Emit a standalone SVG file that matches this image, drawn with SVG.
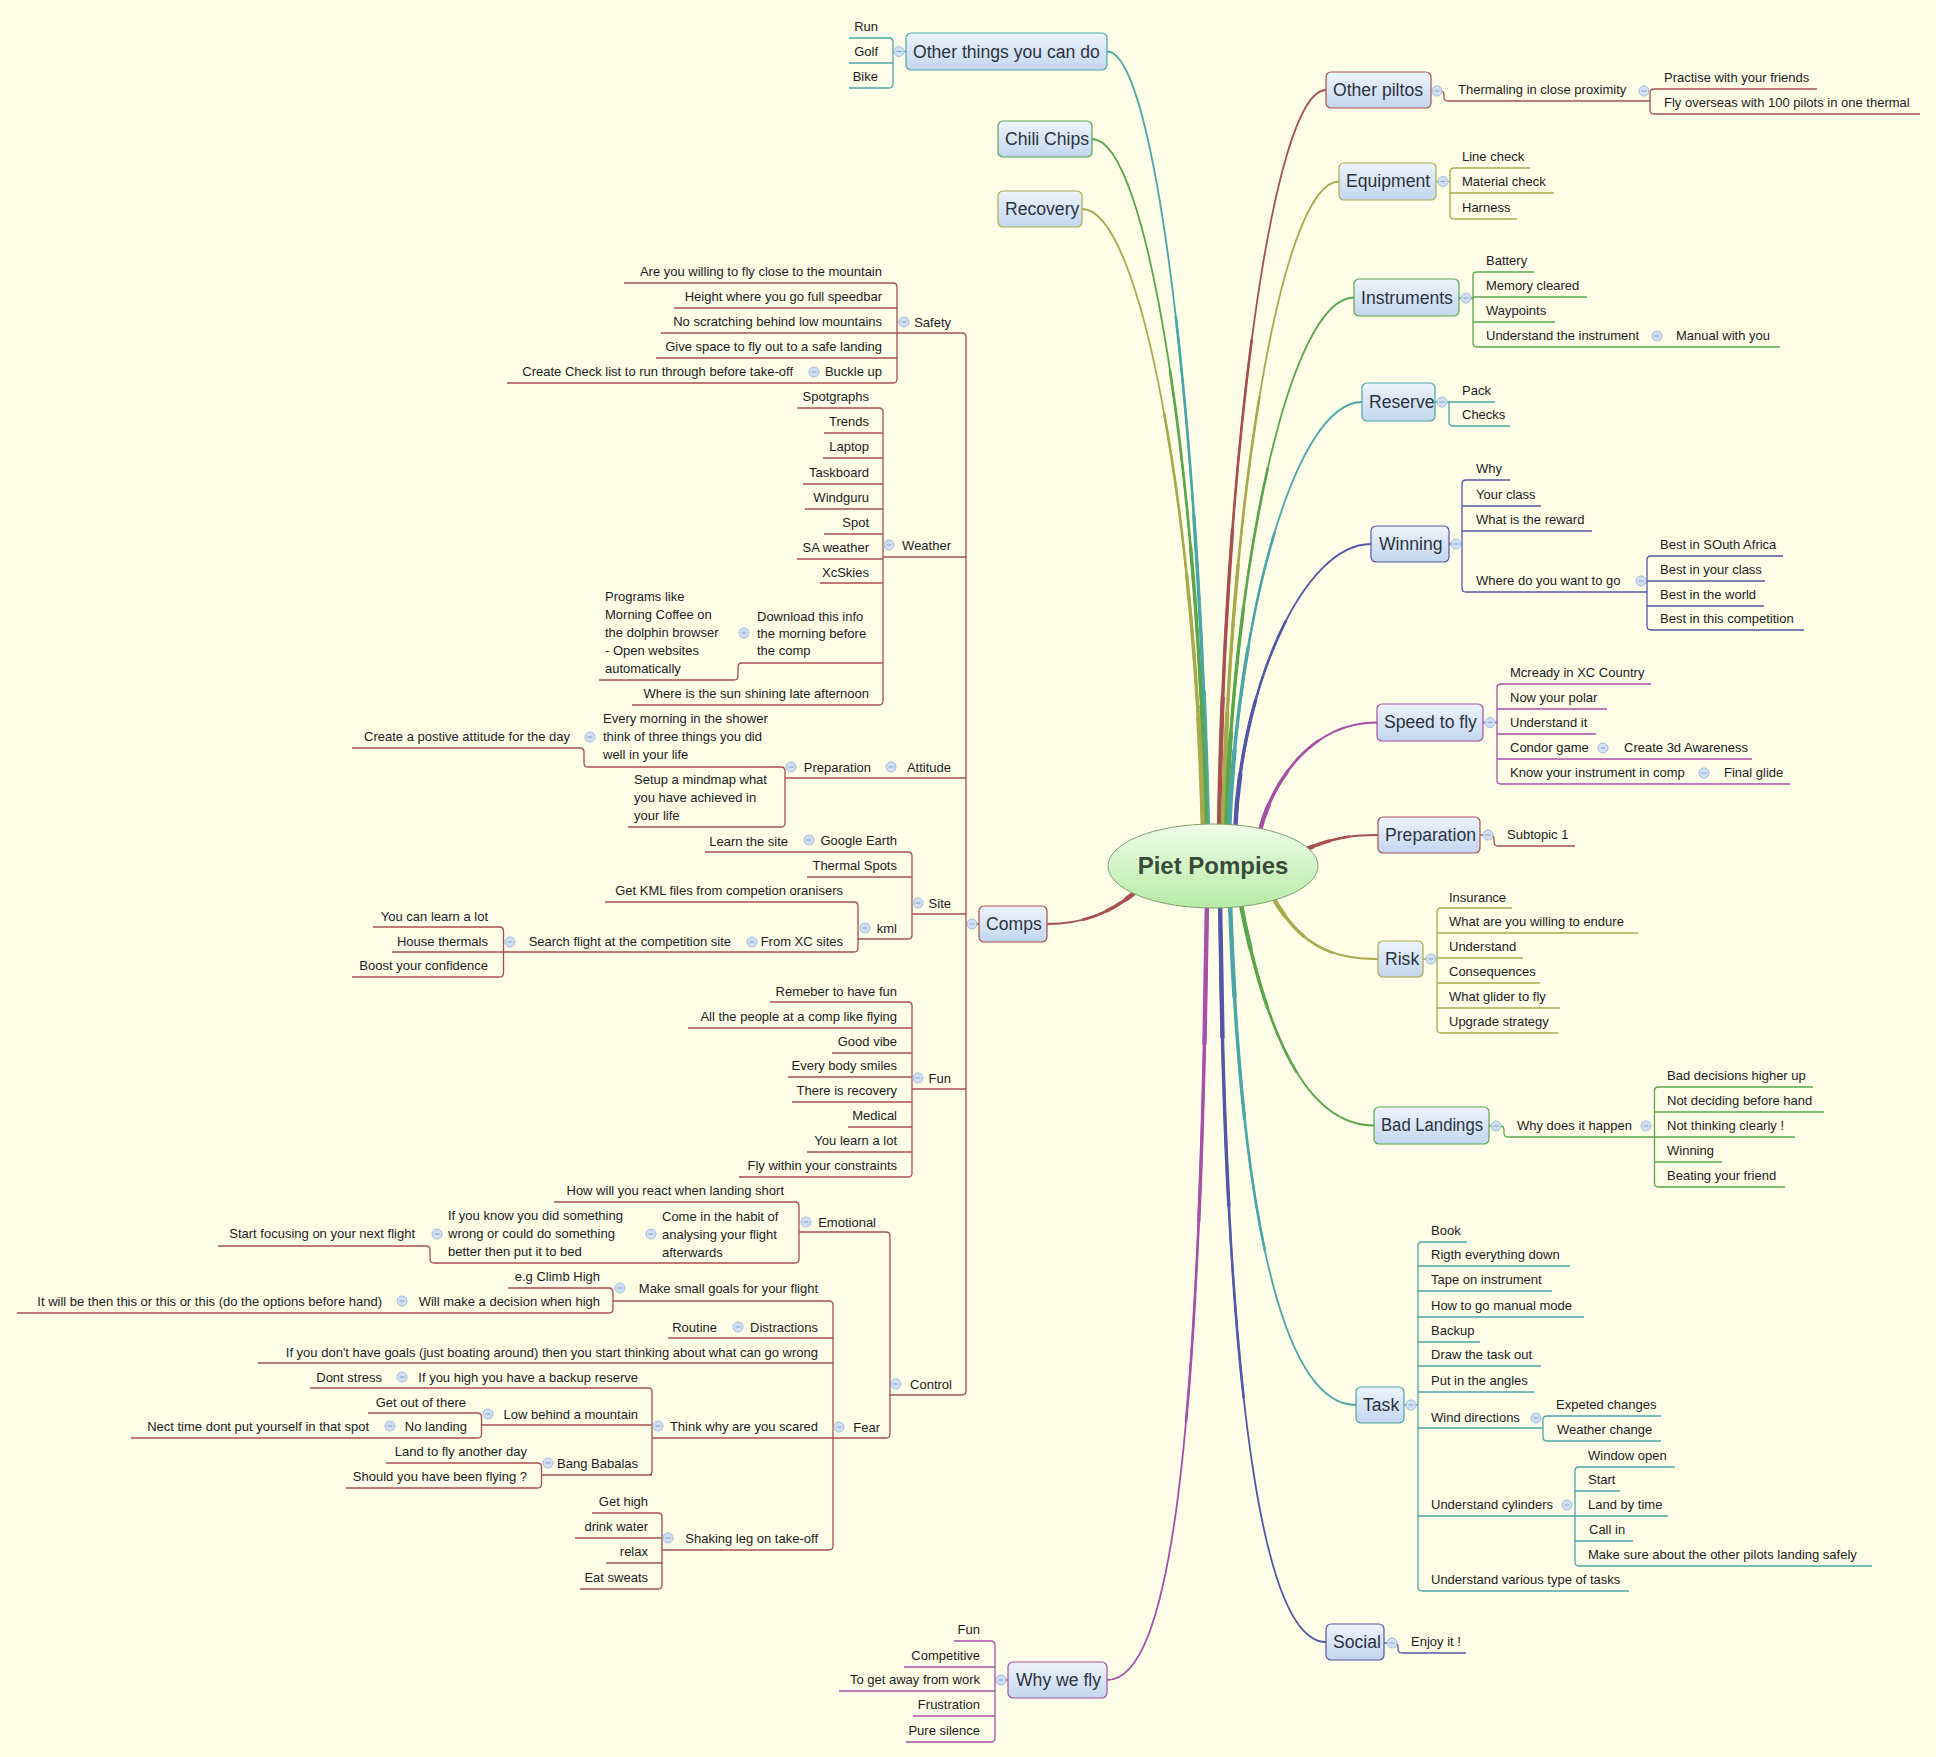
<svg xmlns="http://www.w3.org/2000/svg" xmlns:xlink="http://www.w3.org/1999/xlink" width="1936" height="1757" viewBox="0 0 1936 1757">
<style>
.t{font-family:"Liberation Sans",Arial,sans-serif;font-size:13px;fill:#1c1c1c}
.tm{font-family:"Liberation Sans",Arial,sans-serif;font-size:17.6px;fill:#2c3440}
.e{text-anchor:end}
.l{fill:none;stroke-width:1.3}
.cv{fill:none}
.w1{stroke-width:1.8}
.w2{stroke-width:2.6;stroke-dasharray:65 200}
.w3{stroke-width:3.4;stroke-dasharray:40 200}
.w4{stroke-width:4.4;stroke-dasharray:18 200}
.r{stroke:#a7504e}.o{stroke:#a9aa4f}.g{stroke:#5aa64c}.c{stroke:#4ca6a8}.i{stroke:#5457a8}.p{stroke:#a650a6}
.bx{fill:url(#gb);stroke-width:1.2}
.bt circle{fill:#d2e0f4;stroke:#a3bbde;stroke-width:1}
.bt path{stroke:#8fa9d2;stroke-width:1.2}
</style>
<defs>
<linearGradient id="gb" x1="0" y1="0" x2="0" y2="1"><stop offset="0" stop-color="#eef4fc"/><stop offset="1" stop-color="#c3d6ef"/></linearGradient>
<linearGradient id="ge" x1="0" y1="0" x2="0" y2="1"><stop offset="0" stop-color="#effde9"/><stop offset="1" stop-color="#b6eba6"/></linearGradient>
<g id="b" class="bt"><circle r="5"/><path d="M-2.5,0H2.5"/></g>
<path id="k1" class="cv" pathLength="100" d="M1208,834 C1200,441 1157,51.5 1107,51.5"/>
<path id="k2" class="cv" pathLength="100" d="M1206,834 C1199,485 1149,139 1092,139"/>
<path id="k3" class="cv" pathLength="100" d="M1203,834 C1196,520 1142,209 1082,209"/>
<path id="k4" class="cv" pathLength="100" d="M1219,834 C1224,461 1272,90 1326,90"/>
<path id="k5" class="cv" pathLength="100" d="M1223,834 C1229,506 1281,181.5 1339,181.5"/>
<path id="k6" class="cv" pathLength="100" d="M1226,834 C1233,564 1290,297.5 1354,297.5"/>
<path id="k7" class="cv" pathLength="100" d="M1229,834 C1237,617 1295,402 1362,402"/>
<path id="k8" class="cv" pathLength="100" d="M1235,834 C1240,688 1303,544 1371,544"/>
<path id="k9" class="cv" pathLength="100" d="M1259,834 C1272,780 1312,722.5 1377,722.5"/>
<path id="k10" class="cv" pathLength="100" d="M1300,852 C1330,838 1350,835 1378,835"/>
<path id="k11" class="cv" pathLength="100" d="M1272,896 C1300,945 1330,959 1378,959"/>
<path id="k12" class="cv" pathLength="100" d="M1240,900 C1265,1030 1305,1125.5 1374,1125.5"/>
<path id="k13" class="cv" pathLength="100" d="M1230,900 C1242,1250 1290,1405 1356,1405"/>
<path id="k14" class="cv" pathLength="100" d="M1220,900 C1226,1450 1270,1642 1326,1642"/>
<path id="k15" class="cv" pathLength="100" d="M1207,900 C1200,1450 1170,1680 1107,1680"/>
<path id="k16" class="cv" pathLength="100" d="M1140,888 C1110,915 1080,924 1047,924"/>
</defs>
<rect width="1936" height="1757" fill="#fdfde8"/>

<g id="connectors">
<g id="curves">
<use href="#k1" class="w1 c"/><use href="#k1" class="w2 c"/><use href="#k1" class="w3 c"/><use href="#k1" class="w4 c"/>
<use href="#k2" class="w1 g"/><use href="#k2" class="w2 g"/><use href="#k2" class="w3 g"/><use href="#k2" class="w4 g"/>
<use href="#k3" class="w1 o"/><use href="#k3" class="w2 o"/><use href="#k3" class="w3 o"/><use href="#k3" class="w4 o"/>
<use href="#k4" class="w1 r"/><use href="#k4" class="w2 r"/><use href="#k4" class="w3 r"/><use href="#k4" class="w4 r"/>
<use href="#k5" class="w1 o"/><use href="#k5" class="w2 o"/><use href="#k5" class="w3 o"/><use href="#k5" class="w4 o"/>
<use href="#k6" class="w1 g"/><use href="#k6" class="w2 g"/><use href="#k6" class="w3 g"/><use href="#k6" class="w4 g"/>
<use href="#k7" class="w1 c"/><use href="#k7" class="w2 c"/><use href="#k7" class="w3 c"/><use href="#k7" class="w4 c"/>
<use href="#k8" class="w1 i"/><use href="#k8" class="w2 i"/><use href="#k8" class="w3 i"/><use href="#k8" class="w4 i"/>
<use href="#k9" class="w1 p"/><use href="#k9" class="w2 p"/><use href="#k9" class="w3 p"/><use href="#k9" class="w4 p"/>
<use href="#k10" class="w1 r"/><use href="#k10" class="w2 r"/><use href="#k10" class="w3 r"/><use href="#k10" class="w4 r"/>
<use href="#k11" class="w1 o"/><use href="#k11" class="w2 o"/><use href="#k11" class="w3 o"/><use href="#k11" class="w4 o"/>
<use href="#k12" class="w1 g"/><use href="#k12" class="w2 g"/><use href="#k12" class="w3 g"/><use href="#k12" class="w4 g"/>
<use href="#k13" class="w1 c"/><use href="#k13" class="w2 c"/><use href="#k13" class="w3 c"/><use href="#k13" class="w4 c"/>
<use href="#k14" class="w1 i"/><use href="#k14" class="w2 i"/><use href="#k14" class="w3 i"/><use href="#k14" class="w4 i"/>
<use href="#k15" class="w1 p"/><use href="#k15" class="w2 p"/><use href="#k15" class="w3 p"/><use href="#k15" class="w4 p"/>
<use href="#k16" class="w1 r"/><use href="#k16" class="w2 r"/><use href="#k16" class="w3 r"/><use href="#k16" class="w4 r"/>
</g>
<g id="lines-left">
<path class="l c" d="M906,51.5H893 M889,38 Q893,38 893,42 V84 Q893,88 889,88 M889,38H849 M893,63H849 M889,88H849"/>
<path class="l r" d="M979,924H966 M962,333 Q966,333 966,337 V1391 Q966,1395 962,1395"/>
<path class="l r" d="M962,333H897 M893,283 Q897,283 897,287 V379 Q897,383 893,383 M893,283H624 M897,308H674 M897,333H661 M897,358H656 M893,383H507"/>
<path class="l r" d="M966,557H883 M879,408 Q883,408 883,412 V701 Q883,705 879,705 M879,408H797 M883,433H824 M883,458H823 M883,484H803 M883,509H805 M883,534H824 M883,559H797 M883,583H820 M883,663H742 Q738,663 738,667 V676 Q738,680 734,680 H599 M879,705H632"/>
<path class="l r" d="M966,778H785 M781,767 Q785,767 785,771 V823 Q785,827 781,827 M781,767H588 Q584,767 584,763 V752 Q584,748 580,748 H352 M781,827H628"/>
<path class="l r" d="M966,914H912 M908,852 Q912,852 912,856 V935 Q912,939 908,939 M908,852H705 M912,877H807 M908,939H858 M854,902 Q858,902 858,906 V948 Q858,952 854,952 M854,902H605 M854,952H392 M499.5,927 Q503.5,927 503.5,931 V973 Q503.5,977 499.5,977 M499.5,927H373 M499.5,977H352"/>
<path class="l r" d="M966,1089H912 M908,1002 Q912,1002 912,1006 V1173 Q912,1177 908,1177 M908,1002H770 M912,1028H688 M912,1053H832 M912,1077H788 M912,1102H792 M912,1127H848 M912,1152H807 M908,1177H739"/>
<path class="l r" d="M962,1395H890 M886,1232 Q890,1232 890,1236 V1434 Q890,1438 886,1438 M886,1232H799 M795,1202 Q799,1202 799,1206 V1259 Q799,1263 795,1263 M795,1202H554 M795,1263H434 Q430,1263 430,1259 V1250 Q430,1246 426,1246 H218"/>
<path class="l r" d="M886,1438H833 M829,1301 Q833,1301 833,1305 V1546 Q833,1550 829,1550 M829,1301H613 M609,1288 Q613,1288 613,1292 V1309 Q613,1313 609,1313 M609,1288H508 M609,1313H17 M833,1338H668 M833,1363H258 M833,1438H652 M648,1388 Q652,1388 652,1392 V1471 Q652,1475 648,1475 M648,1388H310 M652,1425H481.5 M477.5,1413 Q481.5,1413 481.5,1417 V1434 Q481.5,1438 477.5,1438 M477.5,1413H368 M477.5,1438H131 M652,1475H541.5 M537.5,1463 Q541.5,1463 541.5,1467 V1484 Q541.5,1488 537.5,1488 M537.5,1463H386 M537.5,1488H346 M829,1550H662 M658,1513 Q662,1513 662,1517 V1585 Q662,1589 658,1589 M658,1513H592 M662,1538H575 M662,1563H606 M658,1589H580"/>
<path class="l p" d="M1008,1680H995 M991,1641 Q995,1641 995,1645 V1738 Q995,1742 991,1742 M991,1641H954 M995,1667H904 M995,1691H839 M995,1716H913 M991,1742H906"/>
</g>
<g id="lines-right">
<path class="l r" d="M1431,91H1440 Q1444,91 1444,95 V97 Q1444,101 1448,101 H1650 M1654,89 Q1650,89 1650,93 V110 Q1650,114 1654,114 M1654,89H1817 M1654,114H1920"/>
<path class="l o" d="M1436,181.5H1450 M1454,168 Q1450,168 1450,172 V215 Q1450,219 1454,219 M1454,168H1530 M1450,193H1554 M1454,219H1517"/>
<path class="l g" d="M1459,298H1473 M1477,272 Q1473,272 1473,276 V343 Q1473,347 1477,347 M1477,272H1534 M1473,297H1587 M1473,322H1555 M1477,347H1780"/>
<path class="l c" d="M1435,402H1495 M1449,402 V422 Q1449,426 1453,426 H1510"/>
<path class="l i" d="M1449,544H1462 M1466,480 Q1462,480 1462,484 V588 Q1462,592 1466,592 M1466,480H1510 M1462,506H1541 M1462,531H1592 M1466,592H1647 M1651,556 Q1647,556 1647,560 V626 Q1647,630 1651,630 M1651,556H1783 M1647,581H1765 M1647,606H1764 M1651,630H1804"/>
<path class="l p" d="M1483,722.5H1497 M1501,684 Q1497,684 1497,688 V780 Q1497,784 1501,784 M1501,684H1651 M1497,709H1607 M1497,734H1596 M1497,759H1752 M1501,784H1790"/>
<path class="l r" d="M1480,835H1490 Q1494,835 1494,839 V842 Q1494,846 1498,846 H1575"/>
<path class="l o" d="M1423,959H1437 M1441,908 Q1437,908 1437,912 V1029 Q1437,1033 1441,1033 M1441,908H1512 M1437,933H1638 M1437,958H1523 M1437,983H1540 M1437,1008H1560 M1441,1033H1558"/>
<path class="l g" d="M1489,1126H1500 Q1504,1126 1504,1130 V1133 Q1504,1137 1508,1137 H1654.5 M1658.5,1087 Q1654.5,1087 1654.5,1091 V1183 Q1654.5,1187 1658.5,1187 M1658.5,1087H1813 M1654.5,1112H1824 M1654.5,1137H1795 M1654.5,1162H1722 M1658.5,1187H1785"/>
<path class="l c" d="M1404,1405H1418 M1422,1242 Q1418,1242 1418,1246 V1587 Q1418,1591 1422,1591 M1422,1242H1467 M1418,1266H1570 M1418,1291H1552 M1418,1317H1584 M1418,1342H1480 M1418,1366H1541 M1418,1392H1534 M1418,1428H1543 M1547,1416 Q1543,1416 1543,1420 V1437 Q1543,1441 1547,1441 M1547,1416H1661 M1547,1441H1661 M1418,1516H1575 M1579,1467 Q1575,1467 1575,1471 V1562 Q1575,1566 1579,1566 M1579,1467H1675 M1575,1491H1620 M1575,1516H1668 M1575,1541H1633 M1579,1566H1872 M1422,1591H1629"/>
<path class="l i" d="M1384,1643H1394 Q1398,1643 1398,1647 V1649 Q1398,1653 1402,1653 H1466"/>
</g>
</g>

<g id="n-other-things">
<rect class="bx c" x="906" y="33" width="201" height="37" rx="5"/>
<text class="tm" x="913" y="57.5">Other things you can do</text>
<use href="#b" x="899" y="51.5"/>
<text class="t e" x="878" y="31">Run</text>
<text class="t e" x="878" y="56">Golf</text>
<text class="t e" x="878" y="81">Bike</text>
</g>
<g id="n-chili"><rect class="bx g" x="998" y="121" width="94" height="36" rx="5"/><text class="tm" x="1005" y="145">Chili Chips</text></g>
<g id="n-recovery"><rect class="bx o" x="998" y="191" width="84" height="36" rx="5"/><text class="tm" x="1005" y="215">Recovery</text></g>

<g id="n-comps">
<rect class="bx r" x="979" y="906" width="68" height="36" rx="5"/>
<text class="tm" x="986" y="930">Comps</text>
<use href="#b" x="972" y="924"/>
</g>
<g id="n-safety">
<text class="t e" x="951" y="327">Safety</text><use href="#b" x="904" y="322"/>
<text class="t e" x="882" y="276">Are you willing to fly close to the mountain</text>
<text class="t e" x="882" y="301">Height where you go full speedbar</text>
<text class="t e" x="882" y="326">No scratching behind low mountains</text>
<text class="t e" x="882" y="351">Give space to fly out to a safe landing</text>
<text class="t e" x="882" y="376">Buckle up</text><use href="#b" x="814" y="372"/>
<text class="t e" x="793" y="376">Create Check list to run through before take-off</text>
</g>
<g id="n-weather">
<text class="t e" x="951" y="550">Weather</text><use href="#b" x="889" y="545"/>
<text class="t e" x="869" y="401">Spotgraphs</text>
<text class="t e" x="869" y="426">Trends</text>
<text class="t e" x="869" y="451">Laptop</text>
<text class="t e" x="869" y="477">Taskboard</text>
<text class="t e" x="869" y="502">Windguru</text>
<text class="t e" x="869" y="527">Spot</text>
<text class="t e" x="869" y="552">SA weather</text>
<text class="t e" x="869" y="577">XcSkies</text>
<text class="t"><tspan x="757" y="621">Download this info</tspan><tspan x="757" y="638">the morning before</tspan><tspan x="757" y="655">the comp</tspan></text>
<use href="#b" x="744" y="633"/>
<text class="t"><tspan x="605" y="601">Programs like</tspan><tspan x="605" y="619">Morning Coffee on</tspan><tspan x="605" y="637">the dolphin browser</tspan><tspan x="605" y="655">- Open websites</tspan><tspan x="605" y="673">automatically</tspan></text>
<text class="t e" x="869" y="698">Where is the sun shining late afternoon</text>
</g>
<g id="n-attitude">
<text class="t e" x="951" y="772">Attitude</text><use href="#b" x="891" y="767"/>
<text class="t e" x="871" y="772">Preparation</text><use href="#b" x="791" y="767"/>
<text class="t"><tspan x="603" y="723">Every morning in the shower</tspan><tspan x="603" y="741">think of three things you did</tspan><tspan x="603" y="759">well in your life</tspan></text>
<use href="#b" x="590" y="737"/>
<text class="t e" x="570" y="741">Create a postive attitude for the day</text>
<text class="t"><tspan x="634" y="784">Setup a mindmap what</tspan><tspan x="634" y="802">you have achieved in</tspan><tspan x="634" y="820">your life</tspan></text>
</g>
<g id="n-site">
<text class="t e" x="951" y="908">Site</text><use href="#b" x="918" y="903"/>
<text class="t e" x="897" y="845">Google Earth</text><use href="#b" x="809" y="840"/>
<text class="t e" x="788" y="846">Learn the site</text>
<text class="t e" x="897" y="870">Thermal Spots</text>
<text class="t e" x="897" y="933">kml</text><use href="#b" x="865" y="928"/>
<text class="t e" x="843" y="895">Get KML files from competion oranisers</text>
<text class="t e" x="843" y="946">From XC sites</text><use href="#b" x="752" y="942"/>
<text class="t e" x="731" y="946">Search flight at the competition site</text><use href="#b" x="510" y="942"/>
<text class="t e" x="488" y="921">You can learn a lot</text>
<text class="t e" x="488" y="946">House thermals</text>
<text class="t e" x="488" y="970">Boost your confidence</text>
</g>
<g id="n-fun">
<text class="t e" x="951" y="1083">Fun</text><use href="#b" x="918" y="1078"/>
<text class="t e" x="897" y="996">Remeber to have fun</text>
<text class="t e" x="897" y="1021">All the people at a comp like flying</text>
<text class="t e" x="897" y="1046">Good vibe</text>
<text class="t e" x="897" y="1070">Every body smiles</text>
<text class="t e" x="897" y="1095">There is recovery</text>
<text class="t e" x="897" y="1120">Medical</text>
<text class="t e" x="897" y="1145">You learn a lot</text>
<text class="t e" x="897" y="1170">Fly within your constraints</text>
</g>
<g id="n-control">
<text class="t e" x="952" y="1389">Control</text><use href="#b" x="896" y="1384"/>
<text class="t e" x="876" y="1227">Emotional</text><use href="#b" x="806" y="1222"/>
<text class="t e" x="784" y="1195">How will you react when landing short</text>
<text class="t"><tspan x="662" y="1221">Come in the habit of</tspan><tspan x="662" y="1239">analysing your flight</tspan><tspan x="662" y="1257">afterwards</tspan></text>
<use href="#b" x="651" y="1234"/>
<text class="t"><tspan x="448" y="1220">If you know you did something</tspan><tspan x="448" y="1238">wrong or could do something</tspan><tspan x="448" y="1256">better then put it to bed</tspan></text>
<use href="#b" x="437" y="1234"/>
<text class="t e" x="415" y="1238">Start focusing on your next flight</text>
</g>
<g id="n-fear">
<text class="t e" x="880" y="1432">Fear</text><use href="#b" x="839" y="1427"/>
<text class="t e" x="818" y="1293">Make small goals for your flight</text><use href="#b" x="620" y="1288"/>
<text class="t e" x="600" y="1281">e.g Climb High</text>
<text class="t e" x="600" y="1306">Will make a decision when high</text><use href="#b" x="402" y="1301"/>
<text class="t e" x="382" y="1306">It will be then this or this or this (do the options before hand)</text>
<text class="t e" x="818" y="1332">Distractions</text><use href="#b" x="738" y="1327"/>
<text class="t e" x="717" y="1332">Routine</text>
<text class="t e" x="818" y="1357">If you don't have goals (just boating around) then you start thinking about what can go wrong</text>
<text class="t e" x="818" y="1431">Think why are you scared</text><use href="#b" x="658" y="1426"/>
<text class="t e" x="638" y="1382">If you high you have a backup reserve</text><use href="#b" x="402" y="1377"/>
<text class="t e" x="382" y="1382">Dont stress</text>
<text class="t e" x="638" y="1419">Low behind a mountain</text><use href="#b" x="488" y="1414"/>
<text class="t e" x="466" y="1407">Get out of there</text>
<text class="t e" x="467" y="1431">No landing</text><use href="#b" x="390" y="1426"/>
<text class="t e" x="369" y="1431">Nect time dont put yourself in that spot</text>
<text class="t e" x="638" y="1468">Bang Babalas</text><use href="#b" x="548" y="1463"/>
<text class="t e" x="527" y="1456">Land to fly another day</text>
<text class="t e" x="527" y="1481">Should you have been flying ?</text>
<text class="t e" x="818" y="1543">Shaking leg on take-off</text><use href="#b" x="668" y="1538"/>
<text class="t e" x="648" y="1506">Get high</text>
<text class="t e" x="648" y="1531">drink water</text>
<text class="t e" x="648" y="1556">relax</text>
<text class="t e" x="648" y="1582">Eat sweats</text>
</g>
<g id="n-why-we-fly">
<rect class="bx p" x="1008" y="1662" width="99" height="36" rx="5"/>
<text class="tm" x="1016" y="1686">Why we fly</text>
<use href="#b" x="1001" y="1680"/>
<text class="t e" x="980" y="1634">Fun</text>
<text class="t e" x="980" y="1660">Competitive</text>
<text class="t e" x="980" y="1684">To get away from work</text>
<text class="t e" x="980" y="1709">Frustration</text>
<text class="t e" x="980" y="1735">Pure silence</text>
</g>

<g id="n-other-piltos">
<rect class="bx r" x="1326" y="72" width="105" height="36" rx="5"/>
<text class="tm" x="1333" y="96">Other piltos</text>
<use href="#b" x="1437" y="91"/>
<text class="t" x="1458" y="94">Thermaling in close proximity</text><use href="#b" x="1644" y="91"/>
<text class="t" x="1664" y="82">Practise with your friends</text>
<text class="t" x="1664" y="107">Fly overseas with 100 pilots in one thermal</text>
</g>
<g id="n-equipment">
<rect class="bx o" x="1339" y="163" width="97" height="37" rx="5"/>
<text class="tm" x="1346" y="187">Equipment</text>
<use href="#b" x="1443" y="181.5"/>
<text class="t" x="1462" y="161">Line check</text>
<text class="t" x="1462" y="186">Material check</text>
<text class="t" x="1462" y="212">Harness</text>
</g>
<g id="n-instruments">
<rect class="bx g" x="1354" y="279" width="105" height="37" rx="5"/>
<text class="tm" x="1361" y="304">Instruments</text>
<use href="#b" x="1466" y="298"/>
<text class="t" x="1486" y="265">Battery</text>
<text class="t" x="1486" y="290">Memory cleared</text>
<text class="t" x="1486" y="315">Waypoints</text>
<text class="t" x="1486" y="340">Understand the instrument</text><use href="#b" x="1657" y="336"/>
<text class="t" x="1676" y="340">Manual with you</text>
</g>
<g id="n-reserve">
<rect class="bx c" x="1362" y="383" width="73" height="38" rx="5"/>
<text class="tm" x="1369" y="408">Reserve</text>
<use href="#b" x="1442" y="402"/>
<text class="t" x="1462" y="395">Pack</text>
<text class="t" x="1462" y="419">Checks</text>
</g>
<g id="n-winning">
<rect class="bx i" x="1371" y="526" width="78" height="36" rx="5"/>
<text class="tm" x="1379" y="550">Winning</text>
<use href="#b" x="1456" y="544"/>
<text class="t" x="1476" y="473">Why</text>
<text class="t" x="1476" y="499">Your class</text>
<text class="t" x="1476" y="524">What is the reward</text>
<text class="t" x="1476" y="585">Where do you want to go</text><use href="#b" x="1641" y="581"/>
<text class="t" x="1660" y="549">Best in SOuth Africa</text>
<text class="t" x="1660" y="574">Best in your class</text>
<text class="t" x="1660" y="599">Best in the world</text>
<text class="t" x="1660" y="623">Best in this competition</text>
</g>
<g id="n-speed">
<rect class="bx p" x="1377" y="704" width="106" height="37" rx="5"/>
<text class="tm" x="1384" y="728">Speed to fly</text>
<use href="#b" x="1490" y="722.5"/>
<text class="t" x="1510" y="677">Mcready in XC Country</text>
<text class="t" x="1510" y="702">Now your polar</text>
<text class="t" x="1510" y="727">Understand it</text>
<text class="t" x="1510" y="752">Condor game</text><use href="#b" x="1603" y="748"/>
<text class="t" x="1624" y="752">Create 3d Awareness</text>
<text class="t" x="1510" y="777">Know your instrument in comp</text><use href="#b" x="1704" y="773"/>
<text class="t" x="1724" y="777">Final glide</text>
</g>
<g id="n-preparation">
<rect class="bx r" x="1378" y="817" width="102" height="36" rx="5"/>
<text class="tm" x="1385" y="841">Preparation</text>
<use href="#b" x="1488" y="835"/>
<text class="t" x="1507" y="839">Subtopic 1</text>
</g>
<g id="n-risk">
<rect class="bx o" x="1378" y="941" width="45" height="36" rx="5"/>
<text class="tm" x="1385" y="965">Risk</text>
<use href="#b" x="1431" y="959"/>
<text class="t" x="1449" y="902">Insurance</text>
<text class="t" x="1449" y="926">What are you willing to endure</text>
<text class="t" x="1449" y="951">Understand</text>
<text class="t" x="1449" y="976">Consequences</text>
<text class="t" x="1449" y="1001">What glider to fly</text>
<text class="t" x="1449" y="1026">Upgrade strategy</text>
</g>
<g id="n-bad-landings">
<rect class="bx g" x="1374" y="1107" width="115" height="37" rx="5"/>
<text class="tm" x="1381" y="1131" textLength="102" lengthAdjust="spacingAndGlyphs">Bad Landings</text>
<use href="#b" x="1496" y="1126"/>
<text class="t" x="1517" y="1130">Why does it happen</text><use href="#b" x="1646" y="1126"/>
<text class="t" x="1667" y="1080">Bad decisions higher up</text>
<text class="t" x="1667" y="1105">Not deciding before hand</text>
<text class="t" x="1667" y="1130">Not thinking clearly !</text>
<text class="t" x="1667" y="1155">Winning</text>
<text class="t" x="1667" y="1180">Beating your friend</text>
</g>
<g id="n-task">
<rect class="bx c" x="1356" y="1387" width="48" height="36" rx="5"/>
<text class="tm" x="1363" y="1411">Task</text>
<use href="#b" x="1411" y="1405"/>
<text class="t" x="1431" y="1235">Book</text>
<text class="t" x="1431" y="1259">Rigth everything down</text>
<text class="t" x="1431" y="1284">Tape on instrument</text>
<text class="t" x="1431" y="1310">How to go manual mode</text>
<text class="t" x="1431" y="1335">Backup</text>
<text class="t" x="1431" y="1359">Draw the task out</text>
<text class="t" x="1431" y="1385">Put in the angles</text>
<text class="t" x="1431" y="1422">Wind directions</text><use href="#b" x="1536" y="1418"/>
<text class="t" x="1556" y="1409">Expeted changes</text>
<text class="t" x="1557" y="1434">Weather change</text>
<text class="t" x="1431" y="1509">Understand cylinders</text><use href="#b" x="1567" y="1505"/>
<text class="t" x="1588" y="1460">Window open</text>
<text class="t" x="1588" y="1484">Start</text>
<text class="t" x="1588" y="1509">Land by time</text>
<text class="t" x="1589" y="1534">Call in</text>
<text class="t" x="1588" y="1559">Make sure about the other pilots landing safely</text>
<text class="t" x="1431" y="1584">Understand various type of tasks</text>
</g>
<g id="n-social">
<rect class="bx i" x="1326" y="1624" width="58" height="36" rx="5"/>
<text class="tm" x="1333" y="1648">Social</text>
<use href="#b" x="1392" y="1643"/>
<text class="t" x="1411" y="1646">Enjoy it !</text>
</g>

<g id="n-center">
<ellipse cx="1213" cy="866" rx="105" ry="42" fill="url(#ge)" stroke="#7fa070" stroke-width="1"/>
<text x="1213" y="874" text-anchor="middle" font-family="Liberation Sans, Arial, sans-serif" font-size="24" font-weight="bold" fill="#3b4b3b">Piet Pompies</text>
</g>
</svg>
